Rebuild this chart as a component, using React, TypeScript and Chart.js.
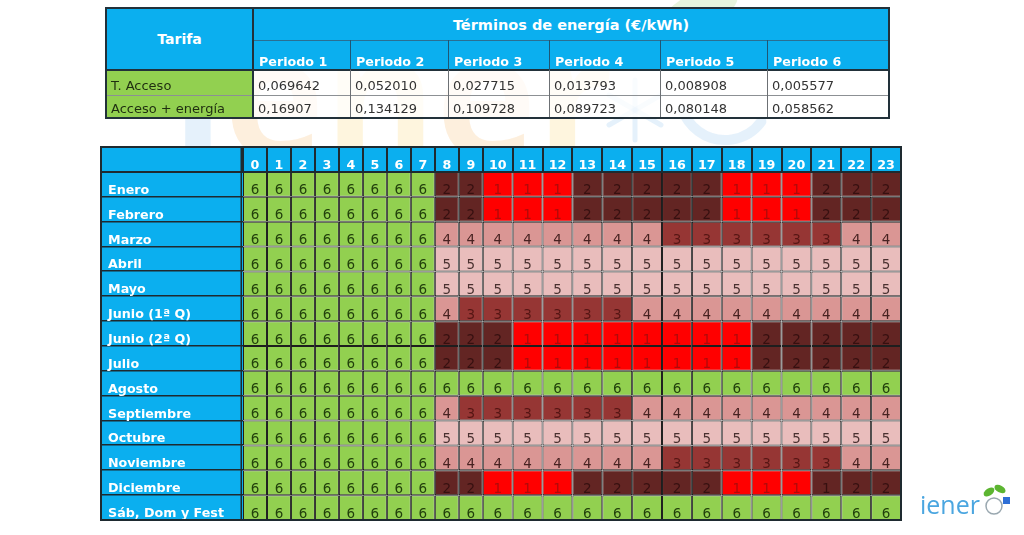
import React, { useEffect, useRef } from 'react';
import { Chart, registerables } from 'chart.js';

Chart.register(...registerables);

// ---------- Top table data ----------
const tariffTitle = 'Tarifa';
const energyTitle = 'Términos de energía (€/kWh)';
const periodLabels = ['Periodo 1', 'Periodo 2', 'Periodo 3', 'Periodo 4', 'Periodo 5', 'Periodo 6'];
const tariffRows = ['T. Acceso', 'Acceso + energía'];
const tAccesoValues = ['0,069642', '0,052010', '0,027715', '0,013793', '0,008908', '0,005577'];
const accesoEnergiaValues = ['0,16907', '0,134129', '0,109728', '0,089723', '0,080148', '0,058562'];

// ---------- Grid data ----------
const hours = ['0', '1', '2', '3', '4', '5', '6', '7', '8', '9', '10', '11', '12', '13', '14', '15', '16', '17', '18', '19', '20', '21', '22', '23'];
const rowLabels = ['Enero', 'Febrero', 'Marzo', 'Abril', 'Mayo', 'Junio (1ª Q)', 'Junio (2ª Q)', 'Julio', 'Agosto', 'Septiembre', 'Octubre', 'Noviembre', 'Diciembre', 'Sáb, Dom y Fest'];

const enero = [6, 6, 6, 6, 6, 6, 6, 6, 2, 2, 1, 1, 1, 2, 2, 2, 2, 2, 1, 1, 1, 2, 2, 2];
const febrero = [6, 6, 6, 6, 6, 6, 6, 6, 2, 2, 1, 1, 1, 2, 2, 2, 2, 2, 1, 1, 1, 2, 2, 2];
const marzo = [6, 6, 6, 6, 6, 6, 6, 6, 4, 4, 4, 4, 4, 4, 4, 4, 3, 3, 3, 3, 3, 3, 4, 4];
const abril = [6, 6, 6, 6, 6, 6, 6, 6, 5, 5, 5, 5, 5, 5, 5, 5, 5, 5, 5, 5, 5, 5, 5, 5];
const mayo = [6, 6, 6, 6, 6, 6, 6, 6, 5, 5, 5, 5, 5, 5, 5, 5, 5, 5, 5, 5, 5, 5, 5, 5];
const junio1 = [6, 6, 6, 6, 6, 6, 6, 6, 4, 3, 3, 3, 3, 3, 3, 4, 4, 4, 4, 4, 4, 4, 4, 4];
const junio2 = [6, 6, 6, 6, 6, 6, 6, 6, 2, 2, 2, 1, 1, 1, 1, 1, 1, 1, 1, 2, 2, 2, 2, 2];
const julio = [6, 6, 6, 6, 6, 6, 6, 6, 2, 2, 2, 1, 1, 1, 1, 1, 1, 1, 1, 2, 2, 2, 2, 2];
const agosto = [6, 6, 6, 6, 6, 6, 6, 6, 6, 6, 6, 6, 6, 6, 6, 6, 6, 6, 6, 6, 6, 6, 6, 6];
const septiembre = [6, 6, 6, 6, 6, 6, 6, 6, 4, 3, 3, 3, 3, 3, 3, 4, 4, 4, 4, 4, 4, 4, 4, 4];
const octubre = [6, 6, 6, 6, 6, 6, 6, 6, 5, 5, 5, 5, 5, 5, 5, 5, 5, 5, 5, 5, 5, 5, 5, 5];
const noviembre = [6, 6, 6, 6, 6, 6, 6, 6, 4, 4, 4, 4, 4, 4, 4, 4, 3, 3, 3, 3, 3, 3, 4, 4];
const diciembre = [6, 6, 6, 6, 6, 6, 6, 6, 2, 2, 1, 1, 1, 2, 2, 2, 2, 2, 1, 1, 1, 1, 2, 2];
const festivos = [6, 6, 6, 6, 6, 6, 6, 6, 6, 6, 6, 6, 6, 6, 6, 6, 6, 6, 6, 6, 6, 6, 6, 6];

const periodRows = [enero, febrero, marzo, abril, mayo, junio1, junio2, julio, agosto, septiembre, octubre, noviembre, diciembre, festivos];
// Diciembre 21h is written "1" but shaded as period 2 in the source
const shadeOverrides = [{ row: 12, hour: 21, period: 2 }];

// ---------- Styles ----------
const BLUE = '#0BAFEF';
const GREEN = '#92D050';
const FONT = '"DejaVu Sans", Verdana, sans-serif';
const periodFill: Record<number, string> = { 1: '#FF0000', 2: '#632523', 3: '#963634', 4: '#DA9694', 5: '#E9BDBC', 6: '#92D050' };
const periodInk: Record<number, string> = { 1: '#B00A0A', 2: '#361010', 3: '#561614', 4: '#472221', 5: '#4A3130', 6: '#22400C' };

const GRID_LEFT = 101;
const GRID_TOP = 147;
const CELL_LEFT = 243;
const CELL_RIGHT = 901;
const CELL_TOP = 172;
const CELL_BOTTOM = 520;
const colWidth = (h: string) => (h.length === 1 ? 24 : 29.9);
const totalWidth = hours.reduce((s, h) => s + colWidth(h), 0);

const shadeOf = (r: number, h: number) => {
  const o = shadeOverrides.find((s) => s.row === r && s.hour === h);
  return o ? o.period : periodRows[r][h];
};

const watermarkLetters = [
  { ch: 'i', color: '#6FB2E8' },
  { ch: 'e', color: '#F4A640' },
  { ch: 'n', color: '#F7C948' },
  { ch: 'e', color: '#F4A640' },
  { ch: 'r', color: '#F7C948' },
];

const gridPlugin = {
  id: 'gridDecor',
  beforeDraw(chart: any) {
    // faint brand watermark behind the tables
    const { ctx } = chart;
    ctx.save();
    ctx.globalAlpha = 0.18;
    ctx.font = 'bold 170px "Open Sans", sans-serif';
    ctx.textAlign = 'left';
    ctx.textBaseline = 'alphabetic';
    let x = 172;
    watermarkLetters.forEach((l) => {
      ctx.fillStyle = l.color;
      ctx.fillText(l.ch, x, 158);
      x += ctx.measureText(l.ch).width;
    });
    ctx.strokeStyle = '#6FB2E8';
    ctx.lineWidth = 5;
    ctx.lineCap = 'round';
    for (let a = 0; a < 3; a++) {
      const ang = (a * Math.PI) / 3 + Math.PI / 6;
      ctx.beginPath();
      ctx.moveTo(635 + Math.cos(ang) * 30, 110 + Math.sin(ang) * 30);
      ctx.lineTo(635 - Math.cos(ang) * 30, 110 - Math.sin(ang) * 30);
      ctx.stroke();
    }
    ctx.lineWidth = 10;
    ctx.beginPath();
    ctx.arc(725, 95, 45, 0.2 * Math.PI, 0.9 * Math.PI);
    ctx.stroke();
    ctx.fillStyle = '#7CC242';
    ctx.beginPath();
    ctx.ellipse(700, 10, 40, 18, -0.4, 0, Math.PI * 2);
    ctx.fill();
    ctx.restore();
  },
  beforeDatasetsDraw(chart: any) {
    const { ctx, chartArea } = chart;
    ctx.save();
    ctx.fillStyle = '#FFFFFF';
    ctx.fillRect(GRID_LEFT, GRID_TOP, chartArea.right - GRID_LEFT, chartArea.bottom - GRID_TOP);
    ctx.fillStyle = BLUE;
    ctx.fillRect(GRID_LEFT, GRID_TOP, chartArea.left - GRID_LEFT, chartArea.bottom - GRID_TOP);
    ctx.fillRect(chartArea.left, GRID_TOP, chartArea.right - chartArea.left, chartArea.top - GRID_TOP);
    ctx.restore();
  },
  afterDatasetsDraw(chart: any) {
    const { ctx, chartArea, scales } = chart;
    const yScale = scales.y;
    ctx.save();
    ctx.textAlign = 'center';
    ctx.textBaseline = 'alphabetic';
    // cell digits
    chart.data.datasets.forEach((_ds: any, h: number) => {
      const meta = chart.getDatasetMeta(h);
      meta.data.forEach((el: any, r: number) => {
        const p = el.getProps(['x', 'y', 'base', 'height'], true);
        const cx = (p.x + p.base) / 2;
        const bottom = p.y + p.height / 2;
        ctx.font = '13.5px ' + FONT;
        ctx.fillStyle = periodInk[shadeOf(r, h)];
        ctx.fillText(String(periodRows[r][h]), cx, bottom - 2.5);
      });
      // header hour numbers and separators
      const first = meta.data[0].getProps(['x', 'base'], true);
      ctx.font = 'bold 12.7px ' + FONT;
      ctx.fillStyle = '#FFFFFF';
      ctx.fillText(hours[h], (first.x + first.base) / 2, chartArea.top - 3);
      ctx.fillStyle = '#1E2A30';
      ctx.fillRect(Math.round(first.base) - 1, GRID_TOP, 2, chartArea.top - GRID_TOP);
    });
    // row separators in the label column
    const rowH = (chartArea.bottom - chartArea.top) / rowLabels.length;
    ctx.fillStyle = '#1E2A30';
    rowLabels.forEach((_lab, i) => {
      const cy = yScale.getPixelForValue(i);
      ctx.fillRect(GRID_LEFT, Math.round(cy - rowH / 2) - 1, chartArea.left - GRID_LEFT, 1.5);
    });
    // row labels
    ctx.textAlign = 'left';
    ctx.font = 'bold 12.7px ' + FONT;
    ctx.fillStyle = '#FFFFFF';
    rowLabels.forEach((lab, i) => {
      const cy = yScale.getPixelForValue(i);
      ctx.fillText(lab, GRID_LEFT + 7, cy + rowH / 2 - 3);
    });
    // header bottom line and outer frame
    ctx.fillStyle = '#1E2A30';
    ctx.fillRect(GRID_LEFT, chartArea.top - 1, chartArea.right - GRID_LEFT, 2);
    ctx.fillRect(chartArea.left - 2.5, GRID_TOP, 1.5, chartArea.bottom - GRID_TOP);
    ctx.strokeStyle = '#1E2A30';
    ctx.lineWidth = 2;
    ctx.strokeRect(GRID_LEFT, GRID_TOP, chartArea.right - GRID_LEFT, chartArea.bottom - GRID_TOP);
    ctx.restore();
  },
  afterDraw(chart: any) {
    // small brand logo bottom-right
    const { ctx } = chart;
    ctx.save();
    ctx.fillStyle = '#5CB531';
    ctx.beginPath();
    ctx.ellipse(989, 492, 6, 3.5, -0.6, 0, Math.PI * 2);
    ctx.fill();
    ctx.beginPath();
    ctx.ellipse(1000, 489, 6, 3.5, 0.5, 0, Math.PI * 2);
    ctx.fill();
    ctx.strokeStyle = '#9AA8B0';
    ctx.lineWidth = 1.5;
    ctx.beginPath();
    ctx.arc(994, 506, 8, 0, Math.PI * 2);
    ctx.stroke();
    ctx.fillStyle = '#2F6FD6';
    ctx.fillRect(1003, 497, 7, 7);
    ctx.font = '25px "Open Sans", sans-serif';
    ctx.textAlign = 'left';
    ctx.fillStyle = '#4BA6E0';
    ctx.fillText('iener', 920, 514);
    ctx.restore();
  },
};

const TOP_X = [106, 253, 350, 448, 549, 660, 767, 889];
const TOP_Y = [8, 40, 70, 95, 118];
const LINE = '#22313A';

function TopTable() {
  const cells: React.ReactNode[] = [];
  const abs = (x: number, y: number, w: number, h: number, extra: any = {}) => ({
    position: 'absolute' as const, left: x, top: y, width: w, height: h, ...extra,
  });
  cells.push(
    <div key="tarifa" style={abs(TOP_X[0], TOP_Y[0], TOP_X[1] - TOP_X[0], TOP_Y[2] - TOP_Y[0], {
      background: BLUE, color: '#fff', font: 'bold 14px ' + FONT, display: 'flex', alignItems: 'center', justifyContent: 'center',
    })}>{tariffTitle}</div>,
  );
  cells.push(
    <div key="energy" style={abs(TOP_X[1], TOP_Y[0], TOP_X[7] - TOP_X[1], TOP_Y[1] - TOP_Y[0], {
      background: BLUE, color: '#fff', font: 'bold 14.5px ' + FONT, display: 'flex', alignItems: 'center', justifyContent: 'center', paddingTop: 1, boxSizing: 'border-box',
    })}>{energyTitle}</div>,
  );
  periodLabels.forEach((p, i) => {
    cells.push(
      <div key={'p' + i} style={abs(TOP_X[i + 1], TOP_Y[1], TOP_X[i + 2] - TOP_X[i + 1], TOP_Y[2] - TOP_Y[1], { background: BLUE })}>
        <span style={{ position: 'absolute', left: 6, bottom: 1, color: '#fff', font: 'bold 12.7px ' + FONT, lineHeight: '14px' }}>{p}</span>
      </div>,
    );
  });
  const valueRows = [tAccesoValues, accesoEnergiaValues];
  tariffRows.forEach((label, r) => {
    const y0 = TOP_Y[2 + r];
    const h = TOP_Y[3 + r] - y0;
    cells.push(
      <div key={'l' + r} style={abs(TOP_X[0], y0, TOP_X[1] - TOP_X[0], h, { background: GREEN })}>
        <span style={{ position: 'absolute', left: 5, bottom: 2, color: '#1F2E10', font: '13px ' + FONT, lineHeight: '15px' }}>{label}</span>
      </div>,
    );
    valueRows[r].forEach((v, i) => {
      cells.push(
        <div key={'v' + r + '-' + i} style={abs(TOP_X[i + 1], y0, TOP_X[i + 2] - TOP_X[i + 1], h, { background: 'rgba(255,255,255,0.75)' })}>
          <span style={{ position: 'absolute', left: 5, bottom: 2, color: '#333', font: '13px ' + FONT, lineHeight: '15px' }}>{v}</span>
        </div>,
      );
    });
  });
  // lines
  const lines: React.ReactNode[] = [];
  const hl = (k: string, x1: number, x2: number, y: number, t: number, c: string) =>
    lines.push(<div key={k} style={abs(x1, y - t / 2, x2 - x1, t, { background: c })} />);
  const vl = (k: string, x: number, y1: number, y2: number, t: number, c: string) =>
    lines.push(<div key={k} style={abs(x - t / 2, y1, t, y2 - y1, { background: c })} />);
  hl('h40', TOP_X[1], TOP_X[7], TOP_Y[1], 1, '#2A6F92');
  hl('h70', TOP_X[0], TOP_X[7], TOP_Y[2], 2, LINE);
  hl('h95', TOP_X[0], TOP_X[7], TOP_Y[3], 1, '#8C9094');
  vl('v1', TOP_X[1], TOP_Y[0], TOP_Y[4], 1.2, LINE);
  for (let i = 2; i < 7; i++) {
    vl('vh' + i, TOP_X[i], TOP_Y[1], TOP_Y[2], 1, '#1F5674');
    vl('vd' + i, TOP_X[i], TOP_Y[2], TOP_Y[4], 1, '#6C7074');
  }
  lines.push(
    <div key="frame" style={abs(TOP_X[0] - 1, TOP_Y[0] - 1, TOP_X[7] - TOP_X[0] + 2, TOP_Y[4] - TOP_Y[0] + 2, {
      border: '2px solid ' + LINE, boxSizing: 'border-box',
    })} />,
  );
  return <>{cells}{lines}</>;
}

export default function App() {
  const canvasRef = useRef<HTMLCanvasElement | null>(null);

  useEffect(() => {
    const canvas = canvasRef.current;
    if (!canvas) return;
    const chart = new Chart(canvas, {
      type: 'bar',
      data: {
        labels: rowLabels,
        datasets: hours.map((h, hi) => ({
          label: h,
          data: rowLabels.map(() => colWidth(h)),
          backgroundColor: rowLabels.map((_r, ri) => periodFill[shadeOf(ri, hi)]),
          borderColor: '#1E1E1E',
          borderWidth: 1,
          borderSkipped: false,
          barPercentage: 1,
          categoryPercentage: 1,
          inflateAmount: 0,
        })),
      },
      options: {
        indexAxis: 'y',
        responsive: false,
        animation: false,
        events: [],
        layout: { padding: { left: CELL_LEFT, right: 1024 - CELL_RIGHT, top: CELL_TOP, bottom: 535 - CELL_BOTTOM } },
        scales: {
          x: { type: 'linear', stacked: true, min: 0, max: totalWidth, display: false },
          y: { type: 'category', stacked: true, display: false },
        },
        plugins: { legend: { display: false }, tooltip: { enabled: false } },
      },
      plugins: [gridPlugin],
    } as any);
    return () => chart.destroy();
  }, []);

  return (
    <div style={{ position: 'absolute', left: 0, top: 0, width: 1024, height: 535, overflow: 'hidden', background: '#fff' }}>
      <canvas ref={canvasRef} width={1024} height={535} style={{ position: 'absolute', left: 0, top: 0 }} />
      <TopTable />
    </div>
  );
}
